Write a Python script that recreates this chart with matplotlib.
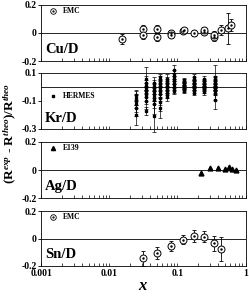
import matplotlib
matplotlib.use("Agg")
import matplotlib.pyplot as plt

plt.rcParams["font.family"] = ["Liberation Serif", "DejaVu Serif"]
plt.rcParams["font.weight"] = "bold"
plt.rcParams["mathtext.fontset"] = "custom"
plt.rcParams["mathtext.rm"] = "Liberation Serif:bold"
plt.rcParams["mathtext.it"] = "Liberation Serif:bold:italic"

# Cu/D (EMC)
cu_x = [0.0153, 0.031, 0.031, 0.05, 0.05, 0.08, 0.08, 0.123, 0.125, 0.175, 0.25, 0.25, 0.35, 0.35, 0.44, 0.56, 0.62]
cu_y = [-0.043, 0.026, -0.012, 0.026, -0.028, 0.002, -0.017, 0.015, 0.02, 0.0, 0.01, 0.02, -0.028, -0.015, 0.021, 0.033, 0.057]
cu_err = [0.035, 0.03, 0.03, 0.03, 0.03, 0.02, 0.02, 0.015, 0.015, 0.02, 0.02, 0.02, 0.03, 0.03, 0.035, 0.11, 0.045]

# Kr/D (HERMES)
kr_x = ([0.025] * 6 + [0.035] * 9 + [0.045] * 9 + [0.055] * 10 + [0.07] * 9
        + [0.088] * 9 + [0.125] * 9 + [0.175] * 10 + [0.25] * 9 + [0.36] * 12)
kr_y = [-0.06, -0.08, -0.10, -0.12, -0.15, -0.20,
        0.06, 0.03, 0.01, -0.01, -0.03, -0.05, -0.07, -0.10, -0.17,
        0.03, 0.01, -0.01, -0.03, -0.05, -0.07, -0.09, -0.12, -0.21,
        0.07, 0.05, 0.03, 0.01, -0.01, -0.03, -0.05, -0.08, -0.11, -0.15,
        0.06, 0.04, 0.03, 0.01, 0.0, -0.01, -0.03, -0.05, -0.07,
        0.12, 0.09, 0.07, 0.05, 0.03, 0.02, 0.0, -0.02, -0.03,
        0.05, 0.04, 0.03, 0.02, 0.01, 0.0, -0.01, -0.02, -0.03,
        0.07, 0.05, 0.04, 0.03, 0.02, 0.01, 0.0, -0.01, -0.02, -0.04,
        0.06, 0.04, 0.03, 0.02, 0.01, 0.0, -0.01, -0.02, -0.035,
        0.07, 0.05, 0.04, 0.03, 0.02, 0.01, 0.0, -0.01, -0.02, -0.03, -0.05, -0.09]
kr_err = [0.04, 0.05, 0.05, 0.06, 0.06, 0.07,
          0.08, 0.05, 0.04, 0.04, 0.04, 0.05, 0.05, 0.06, 0.03,
          0.04, 0.04, 0.04, 0.05, 0.05, 0.05, 0.06, 0.07, 0.11,
          0.02, 0.03, 0.03, 0.03, 0.04, 0.04, 0.05, 0.05, 0.06, 0.07,
          0.03, 0.03, 0.03, 0.03, 0.03, 0.03, 0.03, 0.03, 0.03,
          0.04, 0.03, 0.03, 0.03, 0.03, 0.02, 0.02, 0.02, 0.02,
          0.015, 0.015, 0.015, 0.015, 0.015, 0.015, 0.015, 0.015, 0.015,
          0.02, 0.02, 0.02, 0.02, 0.02, 0.02, 0.02, 0.02, 0.02, 0.02,
          0.02, 0.02, 0.02, 0.02, 0.02, 0.02, 0.02, 0.02, 0.02,
          0.09, 0.03, 0.03, 0.03, 0.03, 0.03, 0.03, 0.03, 0.03, 0.03, 0.04, 0.07]

# Ag/D (E139)
ag_x = [0.22, 0.30, 0.40, 0.50, 0.58, 0.63, 0.72]
ag_y = [-0.019, 0.014, 0.014, 0.01, 0.02, 0.01, -0.002]

# Sn/D (EMC)
sn_x = [0.031, 0.05, 0.08, 0.123, 0.175, 0.25, 0.35, 0.44]
sn_y = [-0.144, -0.104, -0.055, -0.008, 0.017, 0.012, -0.036, -0.077]
sn_err = [0.055, 0.045, 0.035, 0.035, 0.045, 0.04, 0.055, 0.09]

fig = plt.figure(figsize=(2.49, 2.97), dpi=100)
left, width = 0.165, 0.821
bottoms = [0.7946, 0.5657, 0.3333, 0.1044]
heights = [0.1886, 0.1886, 0.1886, 0.185]
axes = [fig.add_axes([left, b, width, h]) for b, h in zip(bottoms, heights)]

for ax in axes:
    ax.set_xscale("log")
    ax.set_xlim(0.001, 1)
    ax.axhline(0, color="black", lw=0.6, zorder=1)
    ax.tick_params(axis="x", which="both", direction="in", length=2, width=0.5, labelbottom=False)
    ax.tick_params(axis="y", direction="out", length=2, width=0.6, labelsize=7, pad=1)
    for s in ax.spines.values():
        s.set_linewidth(0.6)

def emc(ax, x, y, err):
    ax.errorbar(x, y, yerr=err, fmt="none", ecolor="black", elinewidth=0.6, capsize=1.5, capthick=0.6, clip_on=False)
    ax.plot(x, y, "o", ms=5, mfc="white", mec="black", mew=0.7, clip_on=False)
    ax.plot(x, y, ".", ms=1.5, color="black", clip_on=False)

# Cu
ax = axes[0]
emc(ax, cu_x, cu_y, cu_err)
ax.set_ylim(-0.2, 0.2)
ax.set_yticks([-0.2, 0, 0.2], ["-0.2", "0", "0.2"])
ax.plot([0.0015], [0.155], "o", ms=4, mfc="white", mec="black", mew=0.6)
ax.plot([0.0015], [0.155], ".", ms=1.2, color="black")
ax.text(0.0021, 0.155, "EMC", fontsize=5.5, va="center")
ax.text(0.02, 0.14, "Cu/D", transform=ax.transAxes, fontsize=10.5)

# Kr
ax = axes[1]
ax.errorbar(kr_x, kr_y, yerr=kr_err, fmt="s", ms=1.8, color="black", elinewidth=0.5,
            capsize=1.5, capthick=0.5, clip_on=False)
ax.set_ylim(-0.3, 0.1)
ax.set_yticks([-0.3, -0.1, 0.1], ["-0.3", "-0.1", "0.1"])
ax.plot([0.0015], [-0.065], "s", ms=1.8, color="black")
ax.text(0.0021, -0.065, "HERMES", fontsize=5.5, va="center")
ax.text(0.02, 0.12, "Kr/D", transform=ax.transAxes, fontsize=10.5)

# Ag
ax = axes[2]
ax.plot(ag_x, ag_y, "^", ms=3.5, color="black", clip_on=False)
ax.set_ylim(-0.2, 0.2)
ax.set_yticks([-0.2, 0, 0.2], ["-0.2", "0", "0.2"])
ax.plot([0.0015], [0.155], "^", ms=3, color="black")
ax.text(0.0021, 0.155, "E139", fontsize=5.5, va="center")
ax.text(0.02, 0.14, "Ag/D", transform=ax.transAxes, fontsize=10.5)

# Sn
ax = axes[3]
emc(ax, sn_x, sn_y, sn_err)
ax.set_ylim(-0.2, 0.2)
ax.set_yticks([-0.2, 0, 0.2], ["-0.2", "0", "0.2"])
ax.plot([0.0015], [0.155], "o", ms=4, mfc="white", mec="black", mew=0.6)
ax.plot([0.0015], [0.155], ".", ms=1.2, color="black")
ax.text(0.0021, 0.155, "EMC", fontsize=5.5, va="center")
ax.text(0.02, 0.14, "Sn/D", transform=ax.transAxes, fontsize=10.5)
ax.tick_params(axis="x", which="major", labelbottom=True, labelsize=7, pad=2.5)
ax.set_xticks([0.001, 0.01, 0.1, 1], ["0.001", "0.01", "0.1", "1"])
ax.set_xlabel("$x$", fontsize=12, labelpad=0)

fig.text(0.04, 0.55, r"(R$^{exp}$ - R$^{theo}$)/R$^{theo}$", rotation=90,
         ha="center", va="center", fontsize=9.5)

fig.savefig("out.png", dpi=100)
